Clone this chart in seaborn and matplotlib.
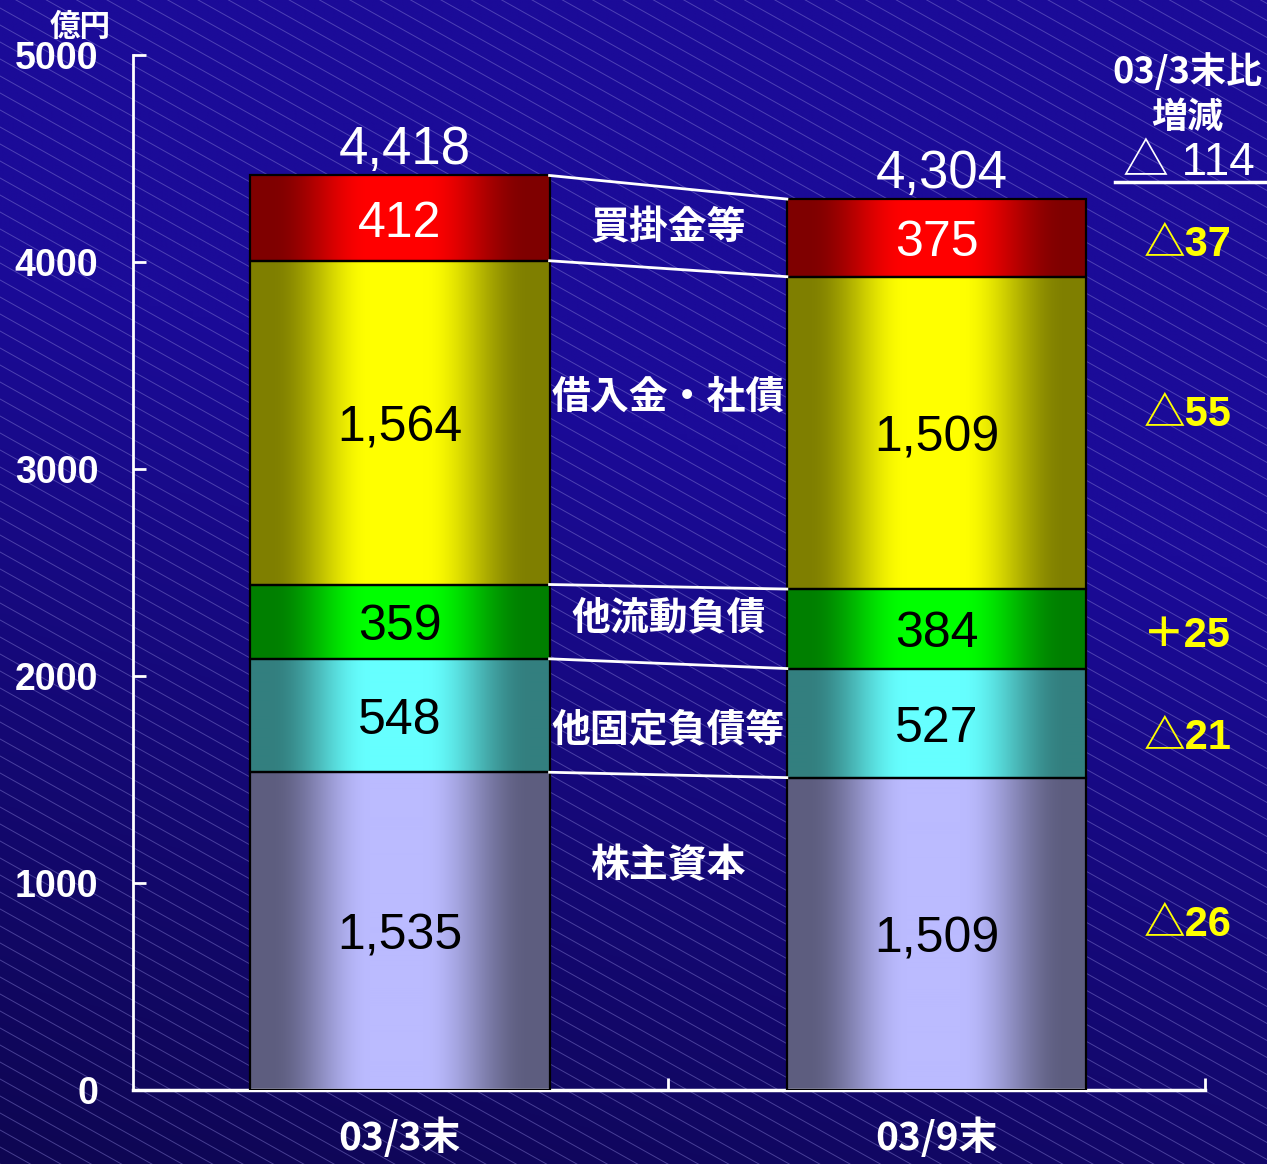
import numpy as np
import pandas as pd
import seaborn as sns
import matplotlib.pyplot as plt
from matplotlib.colors import to_rgb

plt.rcParams['font.family'] = ['Noto Sans CJK JP', 'DejaVu Sans']

# data (億円)
periods = ['03/3末', '03/9末']
items = ['株主資本', '他固定負債等', '他流動負債', '借入金・社債', '買掛金等']
mar03 = [1535, 548, 359, 1564, 412]
sep03 = [1509, 527, 384, 1509, 375]
colors = ['#bbbbff', '#66ffff', '#00ff00', '#ffff00', '#ff0000']
label_colors = ['black', 'black', 'black', 'black', 'white']
yticks = [0, 1000, 2000, 3000, 4000, 5000]

# layout: y positions of the side texts (data units)
item_label_y = [1082, 1739, 2280, 3348, 4164]
diff_label_y = [797, 1700, 2193, 3261, 4082]

df = pd.DataFrame({
    'period': [p for p in periods for _ in items],
    'item': items * 2,
    'value': mar03 + sep03,
})

W, H = 1267, 1164
fig = plt.figure(figsize=(W / 100, H / 100), dpi=100)

# background: dark blue gradient with thin diagonal stripes
bg = fig.add_axes([0, 0, 1, 1])
bg.set_xlim(0, W)
bg.set_ylim(0, H)
bg.axis('off')
xx, yy = np.meshgrid(np.linspace(0, 1, 200), np.linspace(0, 1, 200))
t = np.clip(yy * 1.3 + xx * 0.35, 0, 1)
dark = np.array(to_rgb('#0e0652'))
light = np.array(to_rgb('#1b0b98'))
bg.imshow(dark + (light - dark) * t[..., None], extent=[0, W, 0, H],
          origin='lower', aspect='auto', interpolation='bilinear')
for c in np.arange(0, H + 0.56 * W + 20, 17):
    bg.plot([0, W], [c, c - 0.56 * W], color='#8c84d8', lw=0.7, alpha=0.45)

ax = fig.add_axes([133 / W, 74 / H, (1205 - 133) / W, 1035 / H])
ax.set_facecolor('none')

# horizontal shading of each bar: dark edges, bright middle
prof = np.interp(np.linspace(0, 1, 300), [0, 0.07, 0.40, 0.58, 0.93, 1], [0, 0, 1, 1, 0, 0])
prof = prof * prof * (3 - 2 * prof)


def shade(col):
    c = np.array(to_rgb(col))
    return (c * (0.5 + 0.5 * prof[:, None]))[None, :, :]


bottoms = np.zeros(len(periods))
first_bars = None
for i, item in enumerate(items):
    sub = df[df['item'] == item]
    n0 = len(ax.patches)
    sns.barplot(data=sub, x='period', y='value', order=periods, bottom=bottoms,
                width=0.558, errorbar=None, color=colors[i], edgecolor='black',
                linewidth=1.6, ax=ax, zorder=3)
    bars = ax.patches[n0:]
    if first_bars is None:
        first_bars = bars
    for p, v in zip(bars, sub['value']):
        x0, y0, w, h = p.get_x(), p.get_y(), p.get_width(), p.get_height()
        im = ax.imshow(shade(colors[i]), extent=[x0, x0 + w, y0, y0 + h],
                       aspect='auto', interpolation='bilinear', zorder=2)
        im.set_clip_path(p)
        p.set_facecolor('none')
        ax.annotate(f'{v:,}', (x0 + w / 2, y0 + h / 2), xytext=(0, -4),
                    textcoords='offset points', ha='center', va='center',
                    color=label_colors[i], fontsize=36,
                    family=['Liberation Sans', 'DejaVu Sans'], zorder=5)
    bottoms = bottoms + sub['value'].to_numpy()

# connector lines between the two bars
x_right = first_bars[0].get_x() + first_bars[0].get_width()
x_left = first_bars[1].get_x()
for a, b in zip(np.cumsum(mar03), np.cumsum(sep03)):
    ax.plot([x_right, x_left], [a, b], color='white', lw=2, zorder=4)

# totals above the bars
for p, tot in zip(first_bars, bottoms):
    ax.annotate(f'{int(tot):,}', (p.get_x() + p.get_width() / 2 + 0.01, tot), xytext=(0, 8),
                textcoords='offset points', ha='center', va='baseline',
                fontsize=38, color='white', family=['Liberation Sans', 'DejaVu Sans'])

# item names between the bars
for item, y in zip(items, item_label_y):
    ax.text(0.5, y, item, ha='center', va='center', fontsize=28,
            color='white', weight='bold')

# change vs 03/3
diffs = np.array(sep03) - np.array(mar03)
for d, y in zip(diffs, diff_label_y):
    s = f'△{abs(d)}' if d < 0 else f'＋{d}'
    ax.text(1.467, y, s, ha='center', va='center', fontsize=30, color='#ffff00',
            weight='bold', family=['Liberation Sans', 'Noto Sans CJK JP'])

total_diff = int(bottoms[1] - bottoms[0])
ax.text(1.467, 4918, '03/3末比', ha='center', va='center', fontsize=26,
        color='white', weight='bold')
ax.text(1.467, 4700, '増減', ha='center', va='center', fontsize=26,
        color='white', weight='bold')
ax.text(1.470, 4478, f'△ {abs(total_diff)}', ha='center', va='center', fontsize=33,
        color='white', family=['Liberation Sans', 'Noto Sans CJK JP'])
ax.plot([1.333, 1.611], [4386, 4386], color='white', lw=2.5, clip_on=False)

fig.text(80 / W, 1 - 27 / H, '億円', ha='center', va='center', fontsize=22,
         color='white', weight='bold')

# axes styling
ax.set_xlim(-0.497, 1.5)
ax.set_ylim(0, 5000)
ax.set_xlabel('')
ax.set_ylabel('')
ax.set_yticks(yticks)
ax.set_yticklabels([str(v) for v in yticks])
ax.set_xticks([0, 1])
ax.set_xticklabels(periods)
ax.set_xticks([0.5, 1.5], minor=True)
ax.tick_params(axis='x', which='major', length=0, pad=20, labelsize=28, labelcolor='white')
ax.tick_params(axis='x', which='minor', direction='in', length=9, width=2, color='white')
ax.tick_params(axis='y', direction='in', length=9, width=2, color='white', pad=25,
               labelsize=27, labelcolor='white')
for lbl in ax.get_yticklabels():
    lbl.set_fontfamily(['Liberation Sans', 'DejaVu Sans'])
    lbl.set_fontweight('bold')
for lbl in ax.get_xticklabels():
    lbl.set_fontweight('bold')
for side in ['top', 'right']:
    ax.spines[side].set_visible(False)
ax.spines['left'].set_color('white')
ax.spines['left'].set_linewidth(2)
ax.spines['bottom'].set_color('white')
ax.spines['bottom'].set_linewidth(2.5)

fig.savefig('out.png', dpi=100)
